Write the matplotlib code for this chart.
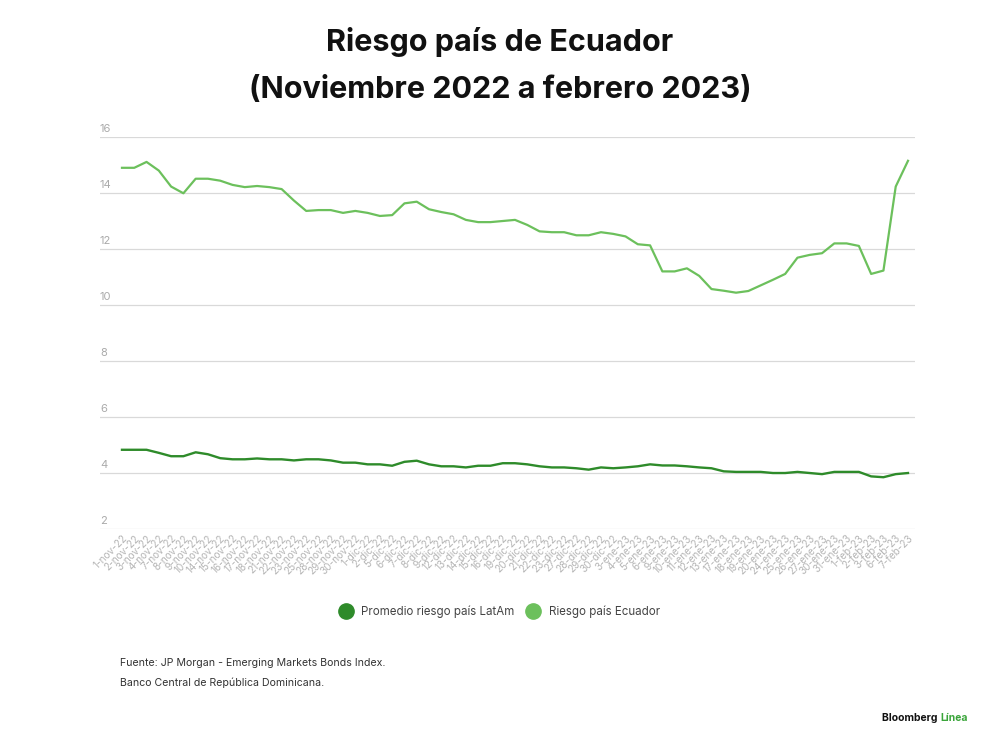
import matplotlib
matplotlib.use("Agg")
import matplotlib.pyplot as plt
from matplotlib.lines import Line2D

plt.rcParams['font.family'] = ['Inter', 'DejaVu Sans']

# fechas (días hábiles)
fechas = [
    "1-nov-22", "2-nov-22", "3-nov-22", "4-nov-22", "7-nov-22", "8-nov-22", "9-nov-22",
    "10-nov-22", "14-nov-22", "15-nov-22", "16-nov-22", "17-nov-22", "18-nov-22",
    "21-nov-22", "22-nov-22", "23-nov-22", "25-nov-22", "28-nov-22", "29-nov-22", "30-nov-22",
    "1-dic-22", "2-dic-22", "5-dic-22", "6-dic-22", "7-dic-22", "8-dic-22", "9-dic-22",
    "12-dic-22", "13-dic-22", "14-dic-22", "15-dic-22", "16-dic-22", "19-dic-22",
    "20-dic-22", "21-dic-22", "22-dic-22", "23-dic-22", "27-dic-22", "28-dic-22",
    "29-dic-22", "30-dic-22",
    "3-ene-23", "4-ene-23", "5-ene-23", "6-ene-23", "9-ene-23", "10-ene-23", "11-ene-23",
    "12-ene-23", "13-ene-23", "17-ene-23", "18-ene-23", "19-ene-23", "20-ene-23",
    "24-ene-23", "25-ene-23", "26-ene-23", "27-ene-23", "30-ene-23", "31-ene-23",
    "1-feb-23", "2-feb-23", "3-feb-23", "6-feb-23", "7-feb-23",
]

latam = [
    4.83, 4.83, 4.83, 4.72, 4.60, 4.60, 4.74, 4.67, 4.53, 4.49, 4.49, 4.52, 4.49,
    4.49, 4.45, 4.49, 4.49, 4.45, 4.37, 4.37, 4.31, 4.31, 4.26, 4.40, 4.44, 4.31,
    4.24, 4.24, 4.20, 4.26, 4.26, 4.35, 4.35, 4.31, 4.24, 4.20, 4.20, 4.17, 4.12,
    4.20, 4.17, 4.20, 4.24, 4.31, 4.27, 4.27, 4.24, 4.20, 4.17, 4.06, 4.04, 4.04,
    4.04, 4.00, 4.00, 4.04, 4.00, 3.96, 4.04, 4.04, 4.04, 3.88, 3.85, 3.96, 4.00,
]

ecuador = [
    14.90, 14.90, 15.11, 14.80, 14.23, 13.99, 14.51, 14.51, 14.44, 14.29, 14.21,
    14.25, 14.21, 14.14, 13.73, 13.36, 13.39, 13.39, 13.29, 13.36, 13.29, 13.18,
    13.21, 13.63, 13.69, 13.42, 13.32, 13.24, 13.04, 12.96, 12.96, 13.00, 13.04,
    12.86, 12.63, 12.60, 12.60, 12.49, 12.49, 12.60, 12.54, 12.45, 12.17, 12.13,
    11.20, 11.20, 11.31, 11.04, 10.57, 10.51, 10.44, 10.50, 10.70, 10.90, 11.11,
    11.69, 11.79, 11.85, 12.20, 12.20, 12.11, 11.11, 11.23, 14.23, 15.15,
]

y_ticks = [2, 4, 6, 8, 10, 12, 14, 16]

c_latam = "#2e8b2a"
c_ecu = "#6cc05c"

fig = plt.figure(figsize=(10, 7.47), dpi=100)
ax = fig.add_axes([0.10, 0.2918, 0.815, 0.5248])

x = range(len(fechas))
ax.plot(x, latam, color=c_latam, lw=1.7, clip_on=False)
ax.plot(x, ecuador, color=c_ecu, lw=1.6, clip_on=False)

ax.set_xlim(-1.79, len(fechas) - 1 + 0.57)
ax.set_ylim(2, 16)

for s in ax.spines.values():
    s.set_visible(False)

# grid + y labels above the lines
for v in y_ticks:
    ax.axhline(v, color="#d9d9d9", lw=0.9, zorder=0)
    ax.text(0.0, v + 0.12, str(v), transform=ax.get_yaxis_transform(),
            ha="left", va="bottom", fontsize=8, color="#aaaaaa")
ax.set_yticks([])

ax.set_xticks(list(x))
ax.set_xticklabels(fechas, rotation=45, ha="right", va="top",
                   rotation_mode="anchor", fontsize=7.2, color="#b5b5b5")
ax.tick_params(axis="x", length=0, pad=3)

# title
fig.text(0.5, 1 - 42 / 747, "Riesgo país de Ecuador", ha="center", va="center",
         fontsize=22, fontweight="bold", color="#111111")
fig.text(0.5, 1 - 90 / 747, "(Noviembre 2022 a febrero 2023)", ha="center", va="center",
         fontsize=22, fontweight="bold", color="#111111")

# legend
handles = [
    Line2D([], [], marker="o", ls="", ms=11, color=c_latam, label="Promedio riesgo país LatAm"),
    Line2D([], [], marker="o", ls="", ms=11, color=c_ecu, label="Riesgo país Ecuador"),
]
fig.legend(handles=handles, loc="center", bbox_to_anchor=(0.497, 1 - 612 / 747),
           ncol=2, frameon=False, fontsize=8.3, handletextpad=0.35, columnspacing=0.6,
           labelcolor="#444444")

# source
fig.text(0.12, 1 - 663 / 747, "Fuente: JP Morgan - Emerging Markets Bonds Index.",
         ha="left", va="center", fontsize=7.6, color="#333333")
fig.text(0.12, 1 - 683 / 747, "Banco Central de República Dominicana.",
         ha="left", va="center", fontsize=7.6, color="#333333")

# brand
t = fig.text(0.882, 1 - 718 / 747, "Bloomberg ", ha="left", va="center",
             fontsize=7.5, fontweight="bold", color="#111111")
fig.canvas.draw()
bb = t.get_window_extent()
fig.text(bb.x1 / fig.bbox.width, 1 - 718 / 747, "Línea", ha="left", va="center",
         fontsize=7.5, fontweight="bold", color="#3aa53a")

fig.savefig("out.png", dpi=100)
